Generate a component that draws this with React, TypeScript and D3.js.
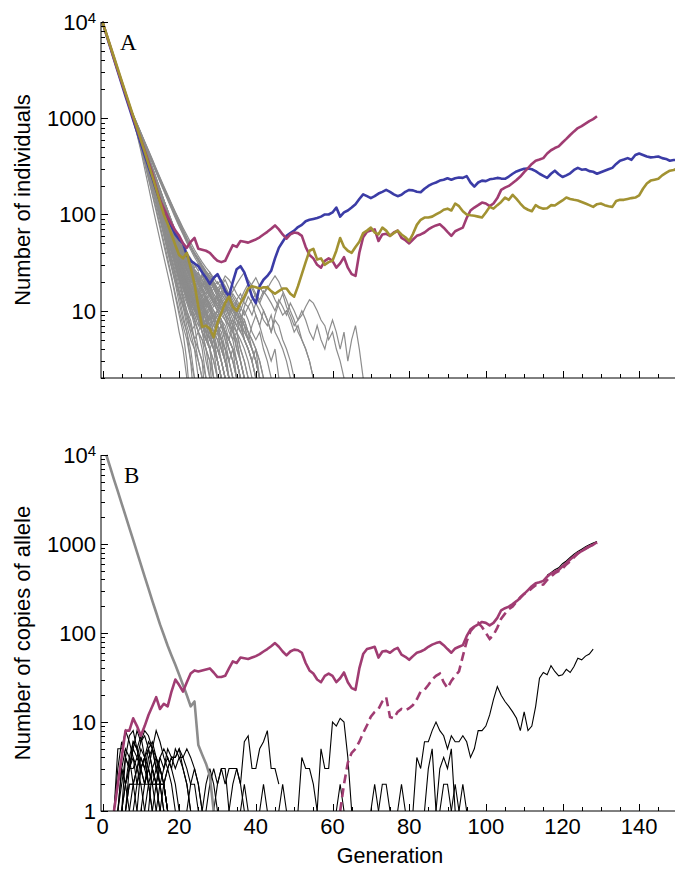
import React, { useRef, useEffect } from 'react';
import * as d3 from 'd3';

// ---- Panel A: number of individuals, one value per generation from generation 0 ----
const purpleTotal = [
  10000, 7500, 5600, 4200, 3150, 2380, 1800, 1350, 1020, 780,
  600, 460, 350, 265, 190, 140, 115, 95, 80, 68,
  60, 50, 45, 52, 57, 44, 43, 42, 40, 36,
  33, 32, 33, 40, 48, 46, 53, 52, 51, 53,
  55, 58, 62, 66, 71, 77, 70, 62, 56, 62,
  65, 64, 60, 46, 38, 35, 30, 28, 33, 35,
  33, 28, 31, 36, 28, 24, 23, 40, 58, 66,
  68, 70, 53, 62, 63, 60, 65, 68, 57, 54,
  50, 55, 60, 62, 65, 70, 74, 77, 79, 73,
  66, 60, 67, 70, 73, 92, 110, 118, 125, 133,
  130, 122, 130, 148, 180, 190, 198, 212, 228, 248,
  275, 303, 335, 362, 372, 385, 430, 465, 490, 510,
  560, 610, 670, 730, 790, 830, 880, 935, 980, 1050,
];

const blueTotal = [
  10000, 7400, 5500, 4100, 3050, 2280, 1700, 1280, 960, 730,
  550, 415, 315, 240, 180, 138, 105, 88, 75, 62,
  55, 50, 38, 33, 31, 29, 25, 22, 19, 22,
  24, 20, 16, 14, 20, 27, 29, 25, 19, 14,
  12, 18, 21, 23, 26, 35, 45, 52, 60, 64,
  68, 74, 78, 85, 88, 90, 92, 95, 100, 100,
  105, 118, 95, 105, 110, 118, 128, 145, 162, 155,
  148, 155, 165, 172, 180, 172, 162, 155, 160, 172,
  180, 178, 172, 170, 185, 198, 208, 215, 225, 230,
  238, 230, 238, 242, 240, 250, 215, 195, 215, 225,
  222, 232, 235, 240, 236, 235, 248, 265, 280, 290,
  298, 300, 295, 282, 265, 252, 240, 265, 285, 262,
  245, 255, 268, 290, 305, 292, 295, 282, 278, 265,
  275, 285, 295, 305, 335, 362, 372, 385, 370, 415,
  430, 415, 400, 392, 395, 400, 385, 378, 362, 368, 370,
];

const oliveTotal = [
  10000, 7550, 5700, 4300, 3250, 2450, 1850, 1400, 1060, 800,
  600, 450, 335, 250, 185, 135, 100, 80, 62, 48,
  38, 35, 40, 28, 19, 11, 6.8, 7, 6.5, 5.3,
  7.5, 9.5, 12, 14, 11, 10, 12, 14, 17, 18,
  17.5, 17, 17.5, 17.5, 16, 15, 16, 17, 17, 15,
  14, 18, 24, 32, 42, 44, 34, 35, 30, 32,
  33, 42, 57, 46, 42, 40, 46, 52, 64, 68,
  73, 65, 62, 73, 68, 60, 64, 68, 62, 58,
  53, 63, 78, 88, 93, 93, 95, 100, 105, 112,
  115, 110, 130, 122, 108, 100, 98, 97, 95, 93,
  105, 120, 115, 125, 135, 150, 142, 160, 145, 130,
  118, 112, 108, 125, 118, 115, 116, 125, 124, 132,
  140, 150, 145, 142, 140, 135, 130, 125, 120, 128,
  130, 125, 122, 120, 138, 142, 142, 145, 148, 150,
  158, 185, 210, 225, 230, 235, 255, 270, 285, 290, 300,
];

// grey runs that died out: common start (gens 0-7), then each run from gen 8
const greyHead = [10000, 7500, 5600, 4200, 3150, 2400, 1800, 1350];
const greyRunStart = 8;
const greyRuns = [
  [950, 680, 460, 300, 195, 125, 82, 54, 36, 24, 16, 10, 6, 4, 2, 1],
  [1000, 740, 520, 370, 260, 180, 125, 88, 60, 40, 28, 19, 12, 8, 6, 3, 2, 1],
  [980, 760, 560, 410, 300, 215, 150, 105, 72, 50, 34, 24, 15, 11, 7, 5, 4, 2, 1],
  [1020, 780, 590, 440, 320, 240, 170, 125, 90, 62, 44, 30, 22, 14, 10, 8, 5, 3, 2, 1],
  [990, 730, 540, 390, 280, 200, 140, 95, 65, 46, 30, 21, 16, 11, 9, 6, 7, 4, 3, 1],
  [1010, 770, 580, 430, 330, 250, 185, 135, 100, 72, 53, 38, 28, 20, 15, 12, 8, 6, 5, 3, 2, 1],
  [960, 710, 500, 350, 240, 165, 115, 78, 52, 35, 23, 15, 10, 7, 5, 3, 1],
  [1000, 760, 570, 420, 310, 225, 160, 118, 84, 60, 45, 32, 24, 18, 13, 10, 7, 9, 6, 4, 3, 2, 1],
  [1030, 800, 610, 460, 350, 265, 195, 145, 105, 78, 56, 42, 30, 22, 17, 12, 10, 8, 6, 5, 4, 2, 1],
  [970, 720, 530, 380, 270, 190, 135, 92, 63, 43, 29, 20, 14, 9, 6, 4, 2, 1],
  [1000, 750, 560, 410, 300, 215, 155, 110, 80, 56, 40, 30, 21, 15, 12, 9, 11, 8, 6, 4, 3, 1],
  [1020, 790, 600, 450, 340, 255, 190, 140, 100, 75, 55, 40, 32, 24, 18, 14, 11, 9, 7, 8, 5, 4, 3, 2, 1],
  [990, 740, 550, 400, 290, 210, 150, 105, 75, 52, 36, 26, 18, 13, 9, 7, 5, 6, 4, 2, 1],
  [1010, 780, 590, 440, 330, 245, 180, 130, 95, 70, 50, 38, 27, 21, 16, 13, 10, 12, 9, 7, 5, 6, 4, 3, 2, 1],
  [980, 730, 530, 390, 280, 200, 140, 100, 70, 48, 33, 23, 16, 12, 8, 6, 4, 3, 2, 1],
  [1000, 770, 580, 430, 320, 235, 170, 125, 90, 66, 48, 35, 26, 19, 14, 11, 13, 10, 8, 6, 7, 5, 3, 2, 1],
  [1040, 810, 620, 470, 360, 270, 205, 150, 112, 84, 62, 46, 35, 27, 20, 16, 12, 14, 11, 9, 7, 8, 6, 4, 3, 2, 1],
  [950, 690, 490, 340, 235, 160, 108, 72, 48, 32, 22, 14, 9, 6, 3, 1],
  [1000, 760, 560, 410, 300, 220, 160, 115, 82, 58, 42, 30, 22, 17, 13, 10, 8, 10, 7, 5, 6, 4, 3, 2, 1],
  [1020, 790, 600, 450, 335, 250, 185, 138, 102, 76, 57, 43, 33, 25, 19, 15, 12, 10, 13, 11, 9, 7, 6, 5, 4, 3, 2, 1],
  [1010, 770, 580, 430, 320, 235, 175, 128, 94, 70, 51, 38, 28, 21, 16, 12, 14, 11, 8, 10, 7, 5, 6, 4, 3, 2, 1],
  [990, 750, 560, 415, 305, 225, 165, 120, 88, 64, 47, 35, 26, 19, 15, 11, 9, 7, 9, 6, 4, 5, 3, 2, 1],
  [1030, 790, 600, 455, 345, 260, 195, 147, 110, 82, 62, 47, 35, 27, 21, 17, 14, 11, 9, 12, 10, 8, 6, 7, 5, 3, 4, 2, 1],
  [1000, 760, 575, 430, 320, 240, 178, 132, 97, 72, 53, 40, 30, 23, 18, 14, 11, 13, 10, 8, 6, 5, 3, 2, 1],
  [970, 720, 535, 395, 290, 210, 152, 110, 80, 58, 42, 31, 23, 17, 13, 10, 8, 6, 8, 5, 4, 2, 1],
  [1020, 780, 590, 445, 335, 250, 186, 138, 102, 76, 56, 42, 32, 25, 20, 16, 13, 15, 12, 10, 8, 9, 7, 5, 6, 4, 3, 2, 1],
  [1000, 755, 565, 420, 312, 230, 168, 122, 89, 65, 48, 36, 27, 21, 17, 14, 12, 10, 8, 7, 9, 6, 5, 3, 2, 1],
  [1040, 805, 615, 465, 350, 262, 196, 146, 108, 80, 60, 45, 34, 26, 20, 16, 19, 15, 12, 14, 11, 9, 10, 8, 6, 5, 7, 4, 3, 2, 1],
  [985, 740, 550, 405, 295, 215, 155, 112, 81, 59, 43, 32, 24, 18, 14, 11, 9, 11, 8, 6, 5, 4, 2, 1],
  [1015, 775, 585, 440, 328, 244, 181, 134, 99, 73, 54, 41, 31, 24, 19, 15, 12, 10, 12, 9, 11, 8, 6, 7, 5, 4, 3, 2, 1],
  [1040, 800, 620, 480, 370, 285, 220, 170, 130, 100, 78, 62, 50, 42, 35, 30, 26, 22, 19, 16, 14, 12, 10, 8, 7, 5, 4, 3, 2, 1],
  [1050, 820, 640, 500, 390, 300, 232, 178, 138, 106, 82, 64, 52, 44, 38, 33, 28, 31, 27, 22, 18, 15, 13, 11, 9, 7, 6, 4, 3, 2, 1],
  [1030, 790, 610, 470, 360, 275, 212, 165, 128, 98, 76, 60, 47, 38, 32, 28, 24, 20, 23, 19, 15, 12, 14, 10, 8, 6, 5, 3, 2, 1],
  [1020, 780, 600, 460, 355, 272, 208, 160, 122, 94, 72, 56, 44, 36, 30, 25, 21, 18, 15, 13, 11, 9, 7, 6, 4, 3, 2, 1],
  [1060, 830, 650, 510, 400, 310, 240, 185, 142, 110, 86, 68, 55, 46, 40, 35, 30, 26, 29, 25, 21, 18, 20, 17, 14, 12, 10, 12, 9, 7, 5, 4, 3, 2, 1],
  [1000, 770, 590, 450, 345, 262, 200, 152, 115, 88, 67, 52, 40, 32, 26, 21, 17, 14, 12, 10, 8, 6, 5, 4, 3, 2, 1],
  [1040, 805, 625, 485, 375, 290, 225, 174, 134, 103, 80, 63, 50, 41, 34, 29, 25, 21, 18, 20, 17, 14, 11, 9, 10, 8, 6, 5, 3, 2, 1],
  [1010, 775, 595, 458, 352, 270, 206, 158, 120, 92, 70, 54, 42, 33, 27, 22, 18, 15, 17, 14, 11, 9, 7, 8, 6, 4, 3, 2, 1],
  [1050, 815, 635, 495, 385, 298, 230, 178, 138, 106, 82, 65, 52, 43, 36, 31, 27, 24, 21, 18, 16, 19, 16, 13, 11, 9, 11, 8, 7, 5, 4, 3, 2, 1],
  [1020, 785, 605, 465, 358, 275, 212, 162, 124, 95, 73, 56, 43, 34, 28, 23, 19, 16, 13, 11, 12, 9, 7, 5, 4, 3, 2, 1],
  [990, 755, 575, 435, 330, 250, 188, 140, 104, 77, 57, 42, 32, 25, 20, 17, 14, 12, 10, 8, 7, 5, 4, 3, 2, 1],
  [1000, 765, 585, 445, 338, 256, 194, 146, 110, 82, 61, 46, 35, 27, 22, 18, 15, 13, 11, 13, 10, 8, 6, 5, 3, 2, 1],
  [1030, 795, 615, 475, 367, 283, 218, 168, 130, 100, 77, 60, 47, 38, 31, 26, 22, 25, 21, 18, 15, 13, 11, 9, 8, 7, 5, 6, 4, 3, 2, 1],
  [980, 745, 565, 425, 320, 240, 178, 131, 96, 70, 51, 37, 27, 20, 15, 12, 10, 8, 6, 5, 4, 3, 2, 1],
  [1045, 810, 630, 490, 380, 294, 228, 176, 136, 105, 81, 63, 50, 40, 33, 28, 24, 20, 17, 15, 13, 11, 13, 11, 9, 7, 8, 6, 5, 4, 3, 2, 1],
  [1015, 780, 598, 460, 352, 268, 204, 155, 117, 88, 66, 50, 38, 29, 23, 19, 16, 13, 11, 9, 7, 6, 7, 5, 4, 2, 1],
  [1035, 800, 618, 478, 370, 286, 221, 171, 132, 102, 79, 61, 48, 39, 32, 27, 23, 19, 16, 14, 12, 10, 9, 7, 6, 5, 4, 3, 2, 1],
  [995, 760, 578, 440, 334, 252, 190, 142, 106, 79, 59, 44, 33, 26, 21, 17, 14, 16, 13, 10, 8, 9, 7, 5, 3, 2, 1],
  [1025, 790, 608, 468, 360, 277, 213, 164, 126, 97, 75, 58, 45, 36, 30, 26, 22, 19, 16, 18, 15, 12, 10, 11, 9, 8, 6, 5, 3, 2, 1],
  [1055, 825, 645, 505, 395, 308, 238, 184, 142, 110, 85, 66, 52, 42, 35, 30, 25, 21, 24, 20, 17, 14, 12, 10, 12, 10, 8, 7, 9, 7, 5, 4, 3, 2, 1],
  [1005, 770, 590, 452, 346, 264, 201, 153, 116, 88, 67, 51, 39, 30, 24, 19, 15, 12, 10, 8, 9, 7, 6, 4, 3, 2, 1],
  [970, 730, 548, 410, 305, 226, 166, 121, 88, 63, 45, 32, 23, 17, 13, 10, 8, 6, 5, 4, 2, 1],
  [1040, 808, 628, 488, 378, 292, 226, 175, 135, 104, 80, 62, 49, 40, 34, 29, 25, 22, 19, 17, 15, 17, 14, 12, 10, 11, 9, 7, 6, 8, 6, 5, 4, 3, 2, 1],
  [1010, 776, 594, 455, 349, 266, 203, 155, 118, 90, 69, 53, 41, 32, 26, 21, 17, 14, 11, 9, 7, 5, 4, 3, 2, 1],
  [960, 715, 530, 392, 288, 210, 152, 110, 79, 56, 40, 28, 20, 14, 10, 7, 5, 4, 3, 2, 1],
  [1048, 818, 638, 498, 388, 302, 234, 181, 140, 108, 84, 66, 52, 42, 35, 30, 26, 23, 20, 18, 21, 18, 15, 13, 11, 13, 11, 9, 8, 10, 8, 6, 5, 6, 4, 3, 2, 1],
  [1028, 792, 612, 472, 364, 280, 216, 166, 128, 98, 75, 58, 45, 35, 28, 23, 19, 16, 14, 12, 10, 8, 10, 8, 6, 5, 4, 3, 2, 1],
  [985, 750, 570, 432, 327, 247, 186, 139, 103, 76, 56, 41, 30, 23, 18, 14, 11, 9, 7, 6, 4, 3, 2, 1],
  [1080, 870, 700, 560, 450, 360, 290, 235, 190, 155, 128, 105, 86, 70, 57, 47, 39, 33, 28, 24, 21, 18, 16, 14, 12, 10, 11, 9, 7, 6, 5, 4, 3, 2, 1],
  [1070, 860, 690, 550, 440, 350, 280, 225, 182, 148, 120, 98, 80, 66, 55, 46, 40, 35, 30, 26, 23, 20, 17, 15, 13, 11, 9, 8, 6, 5, 4, 3, 2, 1],
  [1090, 880, 710, 575, 465, 375, 300, 242, 196, 160, 130, 106, 88, 73, 61, 51, 43, 37, 32, 28, 25, 22, 19, 21, 18, 15, 13, 11, 9, 8, 6, 5, 4, 3, 2, 1],
  [1060, 845, 672, 535, 426, 340, 272, 218, 175, 141, 114, 92, 75, 62, 51, 43, 36, 31, 27, 23, 20, 17, 15, 13, 11, 9, 7, 6, 4, 3, 2, 1],
  [1075, 865, 695, 558, 448, 358, 286, 229, 184, 148, 119, 96, 78, 64, 53, 45, 38, 33, 29, 25, 22, 19, 16, 18, 15, 12, 10, 8, 7, 5, 4, 3, 2, 1],
  [1085, 875, 705, 568, 458, 368, 296, 238, 192, 156, 126, 102, 83, 68, 56, 47, 40, 34, 29, 25, 22, 19, 17, 15, 13, 14, 12, 10, 8, 7, 6, 4, 3, 2, 1],
  [1000, 750, 560, 420, 315, 236, 177, 133, 100, 75, 56, 42, 32, 24, 18, 14, 11, 9, 7, 8, 6, 5, 4, 3, 2, 1],
  [1020, 775, 590, 448, 340, 258, 196, 149, 113, 86, 65, 49, 37, 28, 21, 16, 12, 9, 11, 8, 6, 4, 3, 2, 1],
  [985, 745, 560, 420, 315, 236, 177, 133, 100, 75, 56, 42, 31, 23, 17, 13, 15, 12, 9, 7, 5, 4, 3, 2, 1],
  [1035, 800, 620, 480, 372, 288, 223, 173, 134, 104, 81, 63, 49, 38, 30, 24, 20, 17, 14, 12, 10, 8, 9, 7, 6, 5, 4, 3, 2, 1],
  [1030, 810, 630, 490, 380, 290, 225, 175, 135, 105, 80, 62, 48, 38, 30, 26, 22, 19, 17, 20, 18, 15, 13, 16, 14, 12, 10, 13, 15, 12, 11, 9, 12, 10, 8, 7, 9, 6, 5, 4, 3, 2, 1],
  [1050, 830, 650, 505, 395, 305, 235, 180, 140, 108, 84, 65, 50, 40, 32, 27, 24, 21, 18, 22, 25, 20, 17, 19, 23, 21, 18, 15, 13, 16, 19, 17, 14, 12, 15, 18, 16, 13, 11, 9, 10, 8, 6, 7, 5, 4, 3, 2, 1],
  [1020, 800, 620, 480, 370, 280, 215, 165, 125, 95, 72, 56, 43, 34, 27, 22, 18, 16, 19, 17, 14, 12, 15, 18, 21, 17, 14, 12, 10, 13, 16, 19, 22, 18, 15, 17, 20, 23, 20, 16, 13, 10, 8, 6, 5, 4, 3, 2, 1],
  [1040, 820, 640, 500, 390, 300, 232, 180, 140, 110, 86, 67, 52, 41, 33, 27, 23, 20, 17, 15, 18, 21, 24, 20, 17, 14, 16, 19, 22, 25, 21, 18, 15, 13, 16, 14, 12, 10, 13, 11, 9, 12, 10, 8, 9, 11, 13, 12, 10, 8, 7, 5, 6, 4, 3, 2, 1],
  [1010, 790, 610, 470, 360, 275, 210, 160, 122, 93, 71, 54, 42, 33, 26, 21, 17, 20, 23, 19, 16, 13, 11, 14, 17, 15, 12, 10, 8, 11, 14, 12, 9, 7, 10, 8, 6, 9, 12, 15, 11, 9, 7, 8, 10, 8, 6, 5, 7, 5, 4, 6, 8, 6, 4, 6, 3, 5, 7, 4, 2, 1],
  [1000, 780, 600, 460, 350, 265, 200, 152, 115, 87, 66, 50, 38, 30, 24, 20, 23, 19, 16, 13, 15, 12, 10, 13, 11, 9, 7, 10, 8, 6, 5, 7, 9, 7, 5, 4, 3, 4, 2, 1],
  [1030, 800, 615, 475, 365, 280, 215, 165, 128, 98, 75, 58, 45, 35, 28, 23, 19, 16, 14, 17, 20, 17, 14, 12, 10, 12, 15, 13, 11, 9, 11, 13, 15, 12, 10, 8, 6, 8, 7, 5, 4, 3, 2, 1],
  [990, 760, 580, 440, 335, 255, 192, 145, 110, 83, 63, 48, 37, 29, 23, 19, 16, 13, 11, 14, 12, 10, 8, 10, 12, 9, 7, 6, 8, 5, 4, 3, 4, 2, 1],
];

// ---- Panel B: number of copies of allele ----
const wildTypeStart = 1;
const wildType = [
  10000, 7300, 5300, 3900, 2850, 2080, 1520, 1110, 810, 590,
  430, 315, 230, 170, 125, 95, 72, 56, 44, 34,
  26, 20, 15, 17, 5.5, 4.3, 3.4, 2.5, 1,
];

// rescue allele: gens 3-30 read here, afterwards it is the purple population of panel A
const rescueStart = 3;
const rescueEarly = [
  1, 2, 4, 8, 8, 11, 9, 7, 9, 12,
  15, 19, 14, 16, 15, 22, 30, 26, 22, 28,
  35, 38, 37, 38, 39, 40, 36, 32,
];
const rescueJoinGen = 31;

const dashedStart = 62;
const dashedAllele = [
  1, 2, 3.5, 4.5, 5, 6, 7.5, 9.2, 11.5, 13,
  14, 17, 19, 11.4, 11, 13, 14, 13.5, 14.3, 15.5,
  18, 22, 23, 26, 30, 33, 35, 28, 24, 29,
  33, 37, 55, 80, 105, 118, 130, 117, 100, 86,
  95, 115, 145, 165, 185, 198, 225, 252, 275, 290,
  318, 345, 345, 350, 395, 430, 470, 495, 530, 590,
  640, 710, 780, 840, 890, 940, 985, 1030,
];

const sumStart = 116;
const sumAllele = [445, 475, 515, 540, 600, 645, 705, 770, 825, 875, 930, 980, 1025, 1065];

// other new alleles: [first generation, copies per generation]
const alleleRuns: [number, number[]][] = [
  [3, [1, 5, 5, 8, 6, 4, 3, 2, 1]],
  [3, [1, 3, 6, 4, 7, 8, 5, 3, 4, 2, 1]],
  [4, [1, 2, 4, 3, 5, 8, 6, 7, 5, 3, 2, 1]],
  [4, [1, 3, 2, 4, 6, 5, 3, 4, 2, 1]],
  [5, [1, 2, 3, 5, 4, 6, 8, 7, 5, 4, 3, 2, 1]],
  [5, [1, 4, 3, 6, 5, 7, 4, 3, 2, 2, 1]],
  [6, [1, 2, 2, 3, 5, 4, 6, 5, 3, 2, 1]],
  [6, [1, 3, 4, 2, 3, 4, 5, 3, 2, 2, 2, 1]],
  [7, [1, 2, 3, 4, 3, 5, 6, 4, 3, 2, 1]],
  [3, [1, 2, 3, 2, 1]],
  [4, [1, 3, 5, 4, 2, 1]],
  [8, [1, 2, 4, 3, 2, 3, 4, 2, 1]],
  [9, [1, 3, 2, 4, 5, 3, 2, 2, 1]],
  [10, [1, 2, 3, 5, 8, 6, 4, 3, 2, 1]],
  [11, [1, 2, 2, 3, 4, 5, 4, 3, 2, 1]],
  [12, [1, 3, 2, 4, 3, 5, 4, 4, 5, 3, 2, 1]],
  [13, [1, 2, 3, 2, 3, 4, 3, 4, 4, 5, 4, 3, 2, 1]],
  [6, [1, 2, 2, 2, 2, 2, 2, 2, 2, 2, 2, 1]],
  [5, [1, 2, 3, 3, 4, 3, 2, 3, 2, 1]],
  [14, [1, 2, 3, 4, 3, 5, 4, 3, 2, 1]],
  [15, [1, 2, 3, 4, 4, 5, 4, 3, 2, 2, 1]],
  [22, [1, 2, 3, 2, 1, 2, 3, 2, 1]],
  [27, [1, 2, 3, 2, 3, 3, 1]],
  [29, [1, 2, 3, 2, 3, 3, 3, 2, 1]],
  [33, [1, 2, 3, 2, 6, 7, 3, 3, 5, 6, 8, 3, 3, 2]],
  [36, [1, 2, 1]],
  [41, [1, 2, 1]],
  [46, [1, 2, 1]],
  [51, [1, 4, 3, 3, 2, 1]],
  [56, [1, 5, 3, 3, 10, 9, 11, 10, 4, 1]],
  [61, [1, 2, 1]],
  [70, [1, 2, 1]],
  [72, [1, 2, 2, 1]],
  [77, [1, 2, 1]],
  [81, [1, 4, 3, 6, 6, 8, 10, 8, 7, 5, 7, 6, 6, 7, 6, 4, 5, 8, 8, 9,
        12, 18, 25, 20, 17, 15, 13, 11, 8, 13, 8, 9, 15, 31, 36, 34, 43, 37, 33, 34,
        39, 36, 42, 52, 50, 55, 58, 66]],
  [84, [1, 3, 5, 1]],
  [87, [1, 3, 4, 3, 5, 1]],
  [88, [1, 2, 2, 1]],
  [91, [1, 2, 1]],
  [93, [1, 2, 1]],
];

const xTicks = [0, 20, 40, 60, 80, 100, 120, 140];

const COLORS = { purple: '#a03c72', blue: '#3b3ca6', olive: '#a29232', grey: '#8c8c8c' };
const FONT = '"Liberation Sans", Arial, sans-serif';

const pts = (start: number, vals: number[]) => vals.map((v, i) => [start + i, v] as [number, number]);

const App = () => {
  const ref = useRef<SVGSVGElement>(null);

  useEffect(() => {
    const svg = d3.select(ref.current);
    svg.selectAll('*').remove();

    const axisX = 101;
    const x = d3.scaleLinear().domain([0, 150]).range([102.5, 677.5]);
    const yA = d3.scaleLog().domain([2, 10000]).range([378, 22]);
    const yB = d3.scaleLog().domain([1, 10000]).range([811, 455]);

    const defs = svg.append('defs');
    defs.append('clipPath').attr('id', 'clipA').append('rect')
      .attr('x', axisX).attr('y', 10).attr('width', 600).attr('height', 368);
    defs.append('clipPath').attr('id', 'clipB').append('rect')
      .attr('x', axisX).attr('y', 440).attr('width', 600).attr('height', 372);

    const drawAxes = (y: d3.ScaleLogarithmic<number, number>, showX: boolean) => {
      const [bottom, top] = y.range();
      const g = svg.append('g').attr('stroke', '#000').attr('stroke-width', 1);
      g.append('line').attr('x1', axisX).attr('x2', axisX).attr('y1', top).attr('y2', bottom + 0.5);
      g.append('line').attr('x1', axisX).attr('x2', 675).attr('y1', bottom).attr('y2', bottom);

      // y ticks (log: decades long, 2..9 short)
      y.ticks().forEach(v => {
        const major = Math.abs(Math.log10(v) - Math.round(Math.log10(v))) < 1e-9;
        const yy = Math.round(y(v)) + 0.5;
        g.append('line').attr('x1', axisX).attr('x2', axisX + (major ? 7 : 4)).attr('y1', yy).attr('y2', yy);
        if (major) {
          const t = svg.append('text')
            .attr('x', 96).attr('y', y(v)).attr('dy', '0.36em')
            .attr('text-anchor', 'end').attr('font-family', FONT).attr('font-size', 22);
          if (v === 10000) {
            t.append('tspan').text('10');
            t.append('tspan').attr('dy', '-0.45em').attr('font-size', 15).text('4');
          } else {
            t.text(String(v));
          }
        }
      });

      // x ticks every 5, longer every 20
      d3.range(0, 151, 5).forEach(v => {
        const major = v % 20 === 0;
        const xx = Math.round(x(v)) + 0.5;
        g.append('line').attr('x1', xx).attr('x2', xx).attr('y1', bottom).attr('y2', bottom - (major ? 7 : 4));
      });
      if (showX) {
        svg.append('g').selectAll('text').data(xTicks).enter().append('text')
          .attr('x', d => x(d)).attr('y', bottom + 23)
          .attr('text-anchor', 'middle').attr('font-family', FONT).attr('font-size', 22)
          .text(d => String(d));
      }
    };

    // ---- Panel A ----
    const lineA = d3.line<[number, number]>().x(d => x(d[0])).y(d => yA(d[1]));
    const gA = svg.append('g').attr('clip-path', 'url(#clipA)').attr('fill', 'none');
    greyRuns.forEach(run => {
      const series = pts(0, greyHead).concat(pts(greyRunStart, run));
      gA.append('path').attr('d', lineA(series)).attr('stroke', COLORS.grey).attr('stroke-width', 1.2);
    });
    [[blueTotal, COLORS.blue], [purpleTotal, COLORS.purple], [oliveTotal, COLORS.olive]].forEach(([vals, c]) => {
      gA.append('path').attr('d', lineA(pts(0, vals as number[])))
        .attr('stroke', c as string).attr('stroke-width', 2.6).attr('stroke-linejoin', 'round');
    });
    drawAxes(yA, false);
    svg.append('text').attr('x', 120).attr('y', 50).attr('font-family', '"Liberation Serif", "Times New Roman", serif')
      .attr('font-size', 23).text('A');
    svg.append('text').attr('transform', 'translate(30,200) rotate(-90)').attr('text-anchor', 'middle')
      .attr('font-family', FONT).attr('font-size', 22).text('Number of individuals');

    // ---- Panel B ----
    const lineB = d3.line<[number, number]>().x(d => x(d[0])).y(d => yB(d[1]));
    const gB = svg.append('g').attr('clip-path', 'url(#clipB)').attr('fill', 'none');
    alleleRuns.forEach(([start, vals]) => {
      gB.append('path').attr('d', lineB(pts(start, vals))).attr('stroke', '#000').attr('stroke-width', 1.1);
    });
    gB.append('path').attr('d', lineB(pts(sumStart, sumAllele))).attr('stroke', '#000').attr('stroke-width', 1.1);
    gB.append('path').attr('d', lineB(pts(wildTypeStart, wildType)))
      .attr('stroke', COLORS.grey).attr('stroke-width', 2.6).attr('stroke-linejoin', 'round');
    gB.append('path').attr('d', lineB(pts(dashedStart, dashedAllele)))
      .attr('stroke', COLORS.purple).attr('stroke-width', 2.6).attr('stroke-dasharray', '9,5');
    const rescue = pts(rescueStart, rescueEarly).concat(pts(rescueJoinGen, purpleTotal.slice(rescueJoinGen)));
    gB.append('path').attr('d', lineB(rescue))
      .attr('stroke', COLORS.purple).attr('stroke-width', 2.6).attr('stroke-linejoin', 'round');
    drawAxes(yB, true);
    svg.append('text').attr('x', 124).attr('y', 483).attr('font-family', '"Liberation Serif", "Times New Roman", serif')
      .attr('font-size', 23).text('B');
    svg.append('text').attr('transform', 'translate(30,633) rotate(-90)').attr('text-anchor', 'middle')
      .attr('font-family', FONT).attr('font-size', 22).text('Number of copies of allele');
    svg.append('text').attr('x', x(75)).attr('y', 863).attr('text-anchor', 'middle')
      .attr('font-family', FONT).attr('font-size', 21.5).text('Generation');
  }, []);

  return (
    <svg ref={ref} width={675} height={869}
      style={{ position: 'absolute', left: 0, top: 0, background: '#fff' }} />
  );
};

export default App;
